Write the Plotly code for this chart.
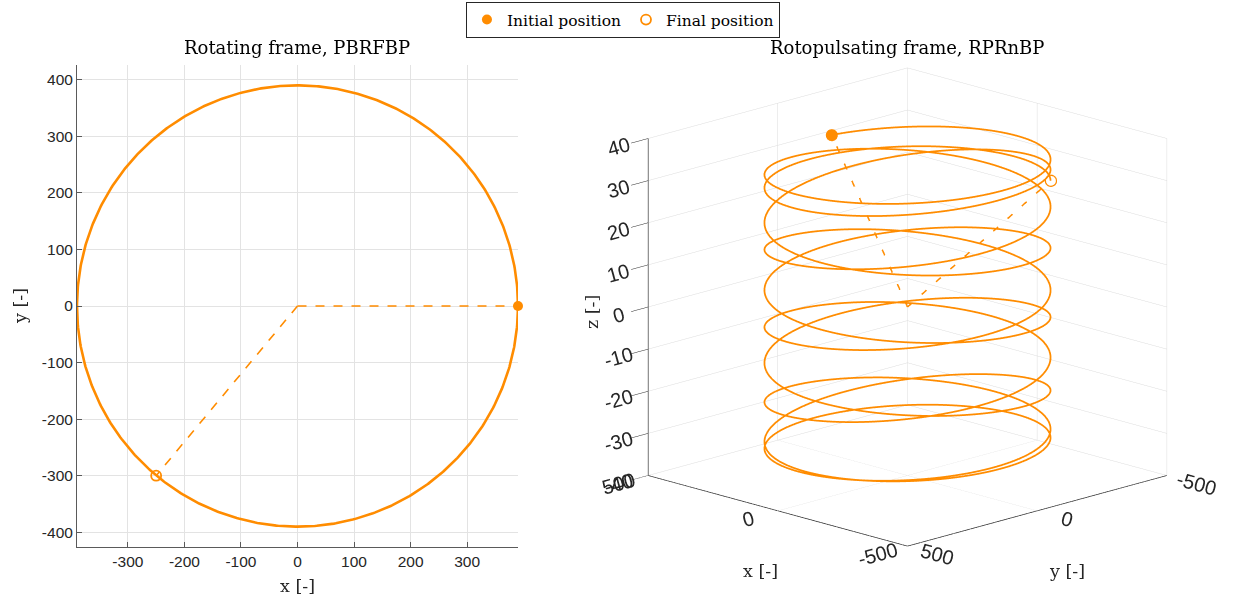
import numpy as np
import plotly.graph_objects as go

# ---------------- data ----------------
ORANGE = "rgb(255,140,0)"

# planar orbit in the rotating frame (PBRFBP)
r_rot = 390.0
init_rot = [390.0, 0.0]
final_rot = [-250.0, -300.0]

# orbit in the rotopulsating frame (RPRnBP)
r_rp = 390.0
init_rp_angle_deg = -13.0
init_rp_z = 33.0
final_rp_angle_deg = 225.0
# height of the orbit at successive half-revolutions (alternating at 225 deg and 45 deg)
z_half_turns = [35.0, 31.4, 23.8, 13.6, 4.0, -4.8, -12.0, -22.6, -29.0, -33.6,
                -31.0, -32.0, -19.8, -13.3, -2.4, 4.0, 14.0, 20.0, 32.6, 28.3, 30.0]

x_ticks2d = [-300, -200, -100, 0, 100, 200, 300]
y_ticks2d = [-400, -300, -200, -100, 0, 100, 200, 300, 400]
xy_ticks3d = [-500, 0, 500]
z_ticks3d = [-40, -30, -20, -10, 0, 10, 20, 30, 40]


def labels(vals, pad_left=None, pad_right=None):
    """Tick labels with a plain hyphen minus, optionally padded to nudge them sideways."""
    out = []
    for v in vals:
        s = str(v)
        if pad_left and v in pad_left:
            s = "\u2007" * pad_left[v] + s
        if pad_right and v in pad_right:
            s = s + "\u2007" * pad_right[v]
        out.append(s)
    return out


# ---------------- geometry helpers ----------------
def circle(r, n=721):
    t = np.linspace(0, 2 * np.pi, n)
    return r * np.cos(t), r * np.sin(t)


def smooth_nodes(values, n_sub):
    """Catmull-Rom pass through the node values, n_sub samples per segment."""
    v = np.asarray(values, float)
    out = []
    for i in range(len(v) - 1):
        p0 = v[i - 1] if i > 0 else v[i]
        p1, p2 = v[i], v[i + 1]
        p3 = v[i + 2] if i + 2 < len(v) else v[i + 1]
        t = np.linspace(0, 1, n_sub, endpoint=False)
        out.append(0.5 * (2 * p1 + (-p0 + p2) * t + (2 * p0 - 5 * p1 + 4 * p2 - p3) * t ** 2
                          + (-p0 + 3 * p1 - 3 * p2 + p3) * t ** 3))
    out.append(v[-1:])
    return np.concatenate(out)


# node angles: start, then every half revolution (clockwise)
node_angles = [init_rp_angle_deg] + [-135.0 - 180.0 * k for k in range(len(z_half_turns))]
node_z = [init_rp_z] + z_half_turns
N_SUB = 90
zz = smooth_nodes(node_z, N_SUB)
ang_lin = []
for i in range(len(node_angles) - 1):
    ang_lin.append(np.linspace(node_angles[i], node_angles[i + 1], N_SUB, endpoint=False))
ang_lin.append([node_angles[-1]])
ang = np.deg2rad(np.concatenate(ang_lin))
x3 = r_rp * np.cos(ang)
y3 = r_rp * np.sin(ang)

x_init3 = r_rp * np.cos(np.deg2rad(init_rp_angle_deg))
y_init3 = r_rp * np.sin(np.deg2rad(init_rp_angle_deg))
x_fin3 = r_rp * np.cos(np.deg2rad(final_rp_angle_deg))
y_fin3 = r_rp * np.sin(np.deg2rad(final_rp_angle_deg))
z_fin3 = z_half_turns[-1]

# ---------------- figure ----------------
fig = go.Figure()

cx, cy = circle(r_rot)
fig.add_trace(go.Scatter(x=cx, y=cy, mode="lines", line=dict(color=ORANGE, width=2.6),
                         showlegend=False, hoverinfo="skip"))
fig.add_trace(go.Scatter(x=[0, init_rot[0]], y=[0, init_rot[1]], mode="lines",
                         line=dict(color=ORANGE, width=1.6, dash="dash"), showlegend=False))
fig.add_trace(go.Scatter(x=[0, final_rot[0]], y=[0, final_rot[1]], mode="lines",
                         line=dict(color=ORANGE, width=1.6, dash="dash"), showlegend=False))
fig.add_trace(go.Scatter(x=[init_rot[0]], y=[init_rot[1]], mode="markers", name="Initial position",
                         marker=dict(color=ORANGE, size=10, symbol="circle"), cliponaxis=False))
fig.add_trace(go.Scatter(x=[final_rot[0]], y=[final_rot[1]], mode="markers", name="Final position",
                         marker=dict(color=ORANGE, size=10, symbol="circle-open", line=dict(width=1.8)),
                         cliponaxis=False))

# 3D orbit
fig.add_trace(go.Scatter3d(x=x3, y=y3, z=zz, mode="lines", line=dict(color=ORANGE, width=3.5),
                           showlegend=False, hoverinfo="skip", scene="scene"))
fig.add_trace(go.Scatter3d(x=[0, x_init3], y=[0, y_init3], z=[0, init_rp_z], mode="lines",
                           line=dict(color=ORANGE, width=3, dash="longdash"), showlegend=False, scene="scene"))
fig.add_trace(go.Scatter3d(x=[0, x_fin3], y=[0, y_fin3], z=[0, z_fin3], mode="lines",
                           line=dict(color=ORANGE, width=3, dash="longdash"), showlegend=False, scene="scene"))
fig.add_trace(go.Scatter3d(x=[x_init3], y=[y_init3], z=[init_rp_z], mode="markers",
                           marker=dict(color=ORANGE, size=7, symbol="circle"), showlegend=False, scene="scene"))
fig.add_trace(go.Scatter3d(x=[x_fin3], y=[y_fin3], z=[z_fin3], mode="markers",
                           marker=dict(color=ORANGE, size=7, symbol="circle-open"), showlegend=False, scene="scene"))

W, H = 1236, 603
TICK_FONT = dict(family="Liberation Sans, Arial, sans-serif", size=15.5, color="#262626")
SERIF = "DejaVu Serif, serif"
GRID = "#e3e3e3"
AXIS_C = "#5a5a5a"


def px(x):
    return x / W


def py(y):
    return 1 - y / H


ax3 = dict(showbackground=False, gridcolor="#dcdcdc", gridwidth=1, zeroline=False,
           showline=True, linecolor="#262626", linewidth=1.5, ticks="outside", tickcolor="#262626",
           ticklen=6, tickfont=TICK_FONT, showspikes=False, title=dict(text=""))

e = np.deg2rad(15.8)
D = 1.8
S = 1.31  # on-screen scale of the 3D box


def note(text, x, y, size=16, angle=0, color="#000"):
    return dict(text=text, x=px(x), y=py(y), xref="paper", yref="paper", xanchor="center",
                yanchor="middle", textangle=angle, showarrow=False,
                font=dict(family=SERIF, size=size, color=color))


fig.update_layout(
    width=W, height=H, template="none",
    paper_bgcolor="white", plot_bgcolor="white",
    margin=dict(l=0, r=0, t=0, b=0),
    showlegend=True,
    legend=dict(orientation="h", x=0.504, xanchor="center", y=py(2), yanchor="top",
                bordercolor="#262626", borderwidth=1, bgcolor="white",
                font=dict(family=SERIF, size=15.5, color="#000"), itemwidth=30,
                tracegroupgap=0),
    xaxis=dict(domain=[px(77), px(518)], range=[-390, 390], tickvals=x_ticks2d,
               ticktext=labels(x_ticks2d),
               ticks="inside", ticklen=5, tickcolor=AXIS_C, showline=True, linecolor=AXIS_C,
               linewidth=1, showgrid=True, gridcolor=GRID, zeroline=False, tickfont=TICK_FONT,
               mirror=False),
    yaxis=dict(domain=[py(547), py(65)], range=[-426, 426], tickvals=y_ticks2d,
               ticktext=labels(y_ticks2d),
               ticks="inside", ticklen=5, tickcolor=AXIS_C, showline=True, linecolor=AXIS_C,
               linewidth=1, showgrid=True, gridcolor=GRID, zeroline=False, tickfont=TICK_FONT,
               mirror=False),
    scene=dict(
        domain=dict(x=[px(579), px(1236)], y=[py(587), py(27)]),
        xaxis=dict(ax3, range=[-500, 500], tickvals=xy_ticks3d, ticklen=24,
                   tickcolor="rgba(0,0,0,0)",
                   ticktext=labels(xy_ticks3d, pad_left={0: 3}, pad_right={500: 6, -500: 2})),
        yaxis=dict(ax3, range=[-500, 500], tickvals=xy_ticks3d, ticklen=24,
                   tickcolor="rgba(0,0,0,0)",
                   ticktext=labels(xy_ticks3d, pad_left={500: 4, -500: 8}, pad_right={0: 2})),
        zaxis=dict(ax3, range=[-40, 40], tickvals=z_ticks3d,
                   ticktext=labels(z_ticks3d, pad_right={v: 2 for v in z_ticks3d})),
        aspectmode="manual", aspectratio=dict(x=S, y=S, z=0.957 * 1.307),
        camera=dict(projection=dict(type="orthographic"),
                    eye=dict(x=-D * np.cos(e) / np.sqrt(2), y=D * np.cos(e) / np.sqrt(2), z=D * np.sin(e)),
                    up=dict(x=0, y=0, z=1), center=dict(x=0, y=0, z=0)),
        bgcolor="white",
    ),
    annotations=[
        note("Rotating frame, PBRFBP", 297, 48, 18),
        note("Rotopulsating frame, RPRnBP", 907, 48, 18),
        note("x [-]", 297, 586, 17.5, color="#262626"),
        note("y [-]", 20, 306, 17.5, -90, "#262626"),
        note("x [-]", 760, 571, 17.5, color="#262626"),
        note("y [-]", 1067, 571, 17.5, color="#262626"),
        note("z [-]", 592, 312, 17.5, -90, "#262626"),
    ],
)

fig.write_html("out.html", config={"displayModeBar": False})
